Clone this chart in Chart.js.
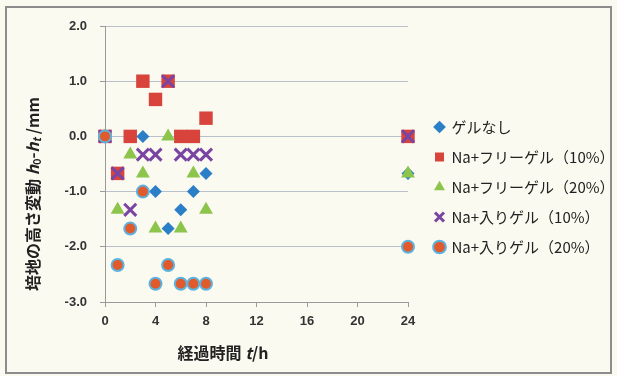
<!DOCTYPE html>
<html>
<head>
<meta charset="utf-8">
<script src="https://cdn.jsdelivr.net/npm/chart.js@4.4.0/dist/chart.umd.min.js"></script>
<style>
  html, body { margin: 0; padding: 0; background: #fafaf0; }
  #wrap { position: relative; width: 617px; height: 376px; }
  #frame { position: absolute; left: 5px; top: 6px; width: 607px; height: 368px; box-sizing: border-box; border: 2px solid #8c8c8c; pointer-events: none; }
</style>
</head>
<body>
<div id="wrap">
  <canvas id="myChart" width="617" height="376"></canvas>
  <div id="frame"></div>
</div>
<script>
// elapsed time (h)
const hours = [0, 1, 2, 3, 4, 5, 6, 7, 8, 24]
// h0 - ht (mm) per series
const noGel = [0, -0.67, 0, 0, -1.0, -1.67, -1.33, -1.0, -0.67, -0.67]
const freeGel10 = [0, -0.67, 0, 1.0, 0.67, 1.0, 0, 0, 0.33, 0]
const freeGel20 = [0, -1.33, -0.33, -0.67, -1.67, 0, -1.67, -0.67, -1.33, -0.67]
const naGel10 = [0, -0.67, -1.33, -0.33, -0.33, 1.0, -0.33, -0.33, -0.33, 0]
const naGel20 = [0, -2.33, -1.67, -1.0, -2.67, -2.33, -2.67, -2.67, -2.67, -2.0]

const seriesNames = ['ゲルなし', 'Na+フリーゲル（10%）', 'Na+フリーゲル（20%）', 'Na+入りゲル（10%）', 'Na+入りゲル（20%）']
const xMin = 0, xMax = 24, xStep = 4
const yMin = -3, yMax = 2, yStep = 1

const jpFont = "'Noto Sans CJK JP', 'Noto Sans', sans-serif"
const tickFont = { family: "'Liberation Sans', Arial, sans-serif", size: 13, weight: 'bold' }

function points(ys) {
  return hours.map((h, i) => ({ x: h, y: ys[i] }))
}

// draws a line of text made of parts with different fonts, centred on (0,0)
function richText(ctx, parts) {
  let total = 0
  parts.forEach(p => { ctx.font = p.font; total += ctx.measureText(p.t).width })
  let x = -total / 2
  parts.forEach(p => {
    ctx.font = p.font
    ctx.fillText(p.t, x, p.dy || 0)
    x += ctx.measureText(p.t).width
  })
}

const axisTitles = {
  id: 'axisTitles',
  afterDraw(chart) {
    const ctx = chart.ctx
    const b = 'bold 16px ' + jpFont
    const bi = 'italic bold 16px ' + jpFont
    const sub = 'bold 11px ' + jpFont
    const subi = 'italic bold 11px ' + jpFont
    ctx.save()
    ctx.fillStyle = '#222'
    ctx.textBaseline = 'middle'
    ctx.textAlign = 'left'
    // y title
    ctx.save()
    ctx.translate(33, 194)
    ctx.rotate(-Math.PI / 2)
    richText(ctx, [
      { t: '培地の高さ変動 ', font: b },
      { t: 'h', font: bi },
      { t: '0', font: sub, dy: 4 },
      { t: '-', font: b },
      { t: 'h', font: bi },
      { t: 't', font: subi, dy: 4 },
      { t: ' /mm', font: b }
    ])
    ctx.restore()
    // x title
    ctx.save()
    ctx.translate(223, 353)
    richText(ctx, [
      { t: '経過時間 ', font: b },
      { t: 't', font: bi },
      { t: '/h', font: b }
    ])
    ctx.restore()
    ctx.restore()
  }
}

// legend on the right is wider than chart.js allows by default
const legendWidth = {
  id: 'legendWidth',
  beforeInit(chart) {
    const fit = chart.legend.fit
    chart.legend.fit = function () {
      fit.call(this)
      this.width = 197
    }
  }
}

const data = {
  datasets: [
    {
      label: seriesNames[0], data: points(noGel), order: 5,
      pointStyle: 'rectRot', radius: 6.5, backgroundColor: '#2b7fc6', borderColor: '#2b7fc6', borderWidth: 0
    },
    {
      label: seriesNames[1], data: points(freeGel10), order: 4,
      pointStyle: 'rect', radius: 9.5, backgroundColor: '#d8433c', borderColor: '#d8433c', borderWidth: 0
    },
    {
      label: seriesNames[2], data: points(freeGel20), order: 3,
      pointStyle: 'triangle', radius: 8, backgroundColor: '#8dc44b', borderColor: '#8dc44b', borderWidth: 0
    },
    {
      label: seriesNames[3], data: points(naGel10), order: 2,
      pointStyle: 'crossRot', radius: 8.5, backgroundColor: '#7a44a3', borderColor: '#7a44a3', borderWidth: 3
    },
    {
      label: seriesNames[4], data: points(naGel20), order: 1,
      pointStyle: 'circle', radius: 6, backgroundColor: '#e05a2c', borderColor: '#5cb3e0', borderWidth: 2
    }
  ]
}

const config = {
  type: 'scatter',
  data: data,
  plugins: [axisTitles, legendWidth],
  options: {
    responsive: false,
    animation: false,
    clip: false,
    layout: { padding: { top: 26, bottom: 28, left: 0, right: 0 } },
    plugins: {
      tooltip: { enabled: false },
      legend: {
        position: 'right',
        align: 'center',
        labels: {
          usePointStyle: true,
          boxWidth: 9,
          boxHeight: 9,
          padding: 15,
          color: '#222',
          font: { family: jpFont, size: 15 },
          sort: (a, b) => a.datasetIndex - b.datasetIndex
        }
      }
    },
    scales: {
      x: {
        type: 'linear',
        min: xMin, max: xMax,
        afterFit: s => { s.height = 46 },
        ticks: { stepSize: xStep, padding: 7, color: '#333', font: tickFont, maxRotation: 0 },
        grid: { drawOnChartArea: false, drawTicks: true, tickLength: 5, color: '#9a9a9a' },
        border: { color: '#9a9a9a' }
      },
      y: {
        min: yMin, max: yMax,
        afterFit: s => { s.width = 105 },
        ticks: { stepSize: yStep, padding: 13, color: '#333', font: tickFont, callback: v => v.toFixed(1) },
        grid: { color: '#b8c0cc', tickColor: '#9a9a9a', tickLength: 5 },
        border: { color: '#9a9a9a' }
      },
      yPad: {
        type: 'linear',
        position: 'right',
        afterFit: s => { s.width = 12 },
        ticks: { display: false },
        grid: { display: false },
        border: { display: false }
      }
    }
  }
}

const myChart = new Chart(document.getElementById('myChart'), config)
</script>
</body>
</html>
